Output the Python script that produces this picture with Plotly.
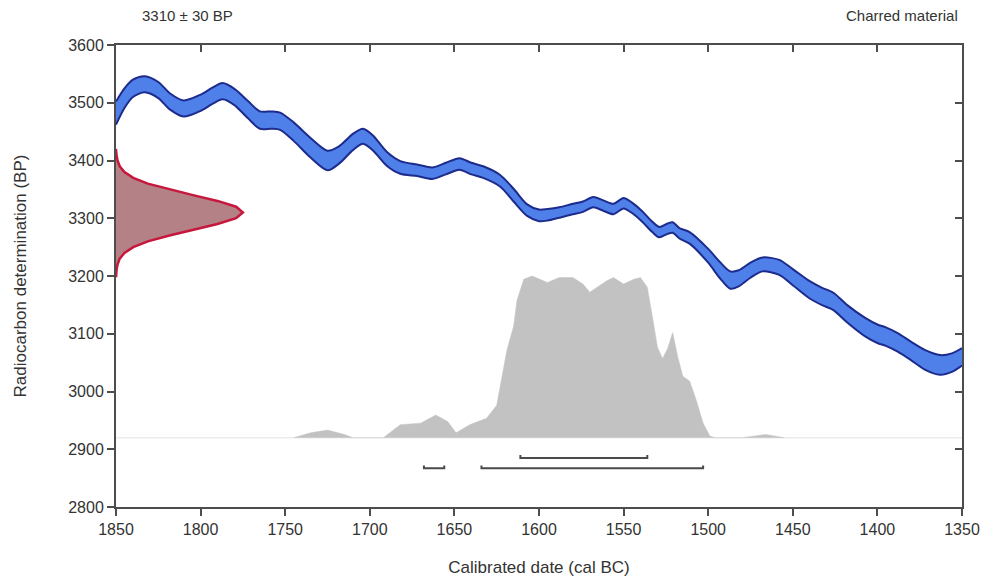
import plotly.graph_objects as go

# ---------------- data ----------------
# Calibration curve (cal BC, centre BP, half-width BP)
cal_years = [1850,1845,1840,1833,1825,1818,1810,1800,1793,1787,1780,1772,1765,1758,1753,1745,1735,1725,1718,1710,
             1704,1698,1690,1682,1672,1663,1655,1647,1640,1633,1623,1615,1607,1600,1595,1588,1580,1574,1568,1562,
             1556,1550,1545,1539,1533,1529,1524,1521,1517,1511,1500,1493,1487,1482,1475,1468,1458,1450,1440,1433,
             1426,1418,1407,1400,1395,1388,1380,1372,1363,1356,1350]
cal_bp = [3482,3508,3525,3532,3522,3502,3490,3500,3512,3520,3510,3488,3470,3470,3468,3450,3422,3400,3410,3432,
          3442,3430,3403,3388,3383,3378,3386,3394,3386,3380,3365,3340,3314,3305,3306,3310,3316,3320,3328,3322,
          3316,3326,3318,3303,3285,3276,3282,3284,3274,3266,3235,3210,3193,3196,3210,3220,3215,3198,3176,3165,
          3156,3135,3111,3100,3095,3085,3070,3055,3046,3050,3060]
cal_err = [20,17,15,14,14,14,14,14,14,14,14,15,15,15,15,16,17,17,15,14,
           13,13,12,11,10,10,10,10,10,10,10,11,10,10,10,9,9,9,9,9,
           9,9,9,9,9,9,9,9,9,10,12,14,15,14,13,12,13,14,15,15,
           15,15,16,16,16,16,16,17,17,16,15]

# Radiocarbon measurement 3310 +/- 30 BP (BP value, drawn width in years)
meas_bp = [3200,3210,3220,3230,3240,3250,3260,3270,3280,3290,3300,3310,3320,3330,3340,3350,3360,3370,3380,3390,3400,3410,3420]
meas_amp = [0.1,0.3,0.9,2.2,5.0,10.2,18.8,31.6,45.5,60,71,75,71,60,45.5,31.6,18.8,10.2,5.0,2.2,0.9,0.3,0.1]

# Calibrated probability (cal BC, relative probability)
post_years = [1745,1735,1725,1715,1710,1692,1682,1670,1661,1654,1649,1641,1631,1625,1619,1615,1613,1609,1604,1595,
              1588,1580,1574,1570,1560,1556,1550,1544,1540,1536,1533,1530,1527,1524,1521,1518,1515,1511,1507,1503,
              1499,1496,1480,1466,1455]
post_p = [0,0.03,0.047,0.02,0,0,0.08,0.09,0.14,0.10,0.03,0.08,0.12,0.20,0.54,0.69,0.85,0.98,1.0,0.96,
          0.99,0.99,0.95,0.90,0.97,0.99,0.95,0.98,0.99,0.93,0.75,0.56,0.49,0.55,0.65,0.50,0.38,0.35,0.23,0.09,
          0.01,0,0,0.02,0]
post_base = 2920
post_scale = 280

# Calibrated ranges
range68 = [(1611, 1536)]
range95 = [(1668, 1656), (1634, 1503)]
level68 = 2885
level95 = 2867
bracket_h = 5

x_ticks = [1850,1800,1750,1700,1650,1600,1550,1500,1450,1400,1350]
y_ticks = [2800,2900,3000,3100,3200,3300,3400,3500,3600]
x_range = [1850, 1350]
y_range = [2800, 3600]

# ---------------- figure ----------------
FONT = "Liberation Sans, Arial, sans-serif"
TXT = "#333333"
fig = go.Figure()

# faint baseline of the probability distribution
fig.add_trace(go.Scatter(x=x_range, y=[post_base, post_base], mode="lines",
                         line=dict(color="#ececec", width=1.5), hoverinfo="skip", showlegend=False))

# calibrated distribution
py = [post_base + p * post_scale for p in post_p]
fig.add_trace(go.Scatter(x=post_years, y=py, mode="lines", fill="toself",
                         fillcolor="#c2c2c2", line=dict(color="#c2c2c2", width=0.5),
                         showlegend=False))

# measurement distribution
mx = [x_range[0]] + [x_range[0] - a for a in meas_amp] + [x_range[0]]
my = [meas_bp[0]] + meas_bp + [meas_bp[-1]]
fig.add_trace(go.Scatter(x=mx, y=my, mode="lines", fill="toself",
                         fillcolor="rgba(150,80,88,0.72)",
                         line=dict(color="#c8173c", width=2.5), showlegend=False))

# calibration band
upper = [b + e for b, e in zip(cal_bp, cal_err)]
lower = [b - e for b, e in zip(cal_bp, cal_err)]
fig.add_trace(go.Scatter(x=cal_years, y=upper, mode="lines", line=dict(width=0, shape="spline", smoothing=0.8),
                         showlegend=False, hoverinfo="skip"))
fig.add_trace(go.Scatter(x=cal_years, y=lower, mode="lines", fill="tonexty", fillcolor="#4f7fe8",
                         line=dict(width=0, shape="spline", smoothing=0.8), showlegend=False, hoverinfo="skip"))
for arr in (upper, lower):
    fig.add_trace(go.Scatter(x=cal_years, y=arr, mode="lines",
                             line=dict(color="#1c2b8c", width=2, shape="spline", smoothing=0.8),
                             showlegend=False))

# range brackets
for rngs, lvl in ((range68, level68), (range95, level95)):
    for a, b in rngs:
        fig.add_trace(go.Scatter(x=[a, a, b, b], y=[lvl + bracket_h, lvl, lvl, lvl + bracket_h],
                                 mode="lines", line=dict(color="#4a4a4a", width=2), showlegend=False))

# dummy trace for mirrored axes
fig.add_trace(go.Scatter(x=[x_range[0]], y=[y_range[0]], xaxis="x2", yaxis="y2", mode="markers",
                         marker=dict(opacity=0), showlegend=False, hoverinfo="skip"))

axis_common = dict(showgrid=False, zeroline=False, showline=True, linecolor="#4d4d4d", linewidth=2,
                   tickcolor="#4d4d4d", tickwidth=1.5, ticklen=7, automargin=False)
fig.update_layout(
    width=984, height=577,
    margin=dict(l=116, r=22, t=45, b=70),
    paper_bgcolor="white", plot_bgcolor="white",
    font=dict(family=FONT, size=16, color=TXT),
    xaxis=dict(range=x_range, tickvals=x_ticks, ticks="outside", tickfont=dict(size=16),
               title=dict(text="Calibrated date (cal BC)", font=dict(size=17, color=TXT), standoff=24),
               **axis_common),
    yaxis=dict(range=y_range, tickvals=y_ticks, ticks="outside", tickfont=dict(size=16),
               title=dict(text="Radiocarbon determination (BP)", font=dict(size=17, color=TXT), standoff=37),
               **axis_common),
    xaxis2=dict(range=x_range, tickvals=x_ticks, ticks="inside", overlaying="x", side="top",
                anchor="y", showticklabels=False, **axis_common),
    yaxis2=dict(range=y_range, tickvals=y_ticks, ticks="inside", overlaying="y", side="right",
                anchor="x", showticklabels=False, **axis_common),
    annotations=[
        dict(text="3310 ± 30 BP", xref="paper", yref="paper", x=0.085, y=1, yshift=30,
             xanchor="center", yanchor="middle", showarrow=False, font=dict(size=15, color=TXT)),
        dict(text="Charred material", xref="paper", yref="paper", x=0.998, y=1, yshift=30,
             xanchor="right", yanchor="middle", showarrow=False, font=dict(size=15, color=TXT)),
    ],
)

# remove the default page margin so the 984x577 figure fills the window exactly
fig.write_html("out.html", config={"displayModeBar": False},
               post_script="document.body.style.margin='0';document.body.style.overflow='hidden';")
